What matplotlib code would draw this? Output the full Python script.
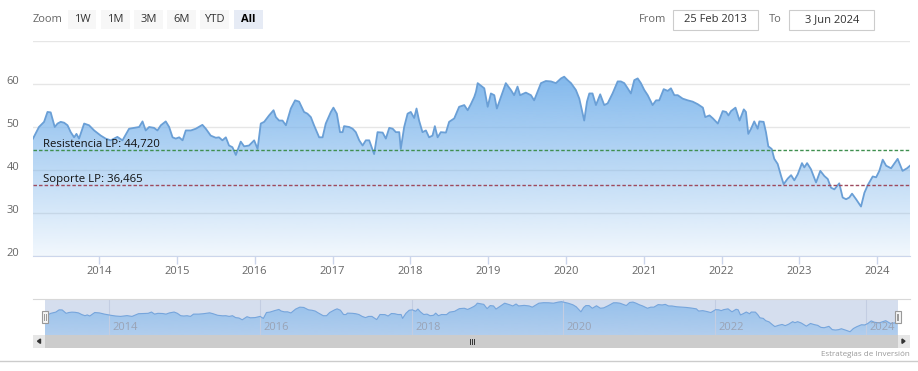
import numpy as np
import pandas as pd
import matplotlib
matplotlib.use('Agg')
import matplotlib.pyplot as plt
import matplotlib.dates as mdates
from matplotlib.patches import Rectangle, Polygon
from matplotlib.transforms import ScaledTranslation

plt.rcParams['font.family'] = ['Open Sans', 'DejaVu Sans']

# price series
dates = [
    '2013-02-25', '2013-03-25', '2013-04-18', '2013-05-04', '2013-05-19', '2013-06-07', '2013-06-20',
    '2013-07-05', '2013-07-21', '2013-08-06', '2013-08-21', '2013-09-06', '2013-09-17', '2013-09-29',
    '2013-10-23', '2013-11-15', '2013-12-09', '2014-01-09', '2014-02-01', '2014-02-25', '2014-03-28',
    '2014-04-21', '2014-05-22', '2014-06-14', '2014-07-08', '2014-07-24', '2014-08-08', '2014-08-24',
    '2014-09-16', '2014-10-02', '2014-10-18', '2014-11-10', '2014-11-26', '2014-12-12', '2014-12-27',
    '2015-01-12', '2015-01-28', '2015-02-12', '2015-03-08', '2015-03-31', '2015-05-01', '2015-05-17',
    '2015-06-09', '2015-07-03', '2015-07-18', '2015-08-03', '2015-08-19', '2015-09-03', '2015-09-19',
    '2015-10-05', '2015-10-28', '2015-11-13', '2015-12-06', '2015-12-30', '2016-01-15', '2016-01-30',
    '2016-02-15', '2016-03-09', '2016-03-30', '2016-04-10', '2016-04-25', '2016-05-11', '2016-05-27',
    '2016-06-19', '2016-07-09', '2016-07-28', '2016-08-20', '2016-09-05', '2016-09-21', '2016-10-06',
    '2016-10-30', '2016-11-15', '2016-11-30', '2016-12-24', '2017-01-05', '2017-01-21', '2017-02-05',
    '2017-02-17', '2017-02-24', '2017-03-20', '2017-04-05', '2017-04-20', '2017-05-06', '2017-05-22',
    '2017-06-06', '2017-06-22', '2017-07-15', '2017-07-31', '2017-08-24', '2017-09-08', '2017-09-24',
    '2017-10-10', '2017-10-25', '2017-11-10', '2017-11-17', '2017-12-03', '2017-12-19', '2018-01-03',
    '2018-01-19', '2018-01-30', '2018-02-11', '2018-02-27', '2018-03-15', '2018-03-30', '2018-04-15',
    '2018-04-26', '2018-05-09', '2018-05-24', '2018-06-17', '2018-07-02', '2018-07-26', '2018-08-18',
    '2018-09-11', '2018-09-27', '2018-10-12', '2018-10-28', '2018-11-05', '2018-11-13', '2018-12-14',
    '2018-12-30', '2019-01-14', '2019-01-30', '2019-02-11', '2019-03-02', '2019-03-25', '2019-04-18',
    '2019-05-03', '2019-05-19', '2019-05-31', '2019-06-27', '2019-07-21', '2019-08-05', '2019-09-06',
    '2019-09-29', '2019-10-23', '2019-11-15', '2019-12-09', '2019-12-24', '2020-01-09', '2020-01-25',
    '2020-02-17', '2020-03-04', '2020-03-16', '2020-03-27', '2020-04-09', '2020-04-20', '2020-05-05',
    '2020-05-21', '2020-06-10', '2020-06-29', '2020-07-15', '2020-08-07', '2020-08-31', '2020-09-15',
    '2020-10-01', '2020-10-17', '2020-11-01', '2020-11-17', '2020-12-03', '2020-12-18', '2021-01-03',
    '2021-01-19', '2021-02-11', '2021-02-27', '2021-03-14', '2021-04-04', '2021-04-23', '2021-05-08',
    '2021-05-24', '2021-06-09', '2021-07-02', '2021-07-26', '2021-08-18', '2021-09-11', '2021-10-05',
    '2021-10-16', '2021-11-05', '2021-11-21', '2021-12-14', '2022-01-06', '2022-01-22', '2022-02-02',
    '2022-02-14', '2022-03-07', '2022-03-26', '2022-04-15', '2022-04-25', '2022-05-06', '2022-05-19',
    '2022-06-03', '2022-06-19', '2022-06-27', '2022-07-17', '2022-07-28', '2022-08-08', '2022-08-24',
    '2022-09-05', '2022-09-21', '2022-10-07', '2022-10-19', '2022-11-07', '2022-11-23', '2022-12-08',
    '2022-12-24', '2023-01-13', '2023-01-24', '2023-02-06', '2023-02-24', '2023-03-20', '2023-04-09',
    '2023-04-28', '2023-05-14', '2023-05-29', '2023-06-14', '2023-07-07', '2023-07-23', '2023-08-08',
    '2023-08-23', '2023-09-05', '2023-09-24', '2023-10-17', '2023-11-02', '2023-11-18', '2023-12-11',
    '2023-12-27', '2024-01-11', '2024-01-27', '2024-02-12', '2024-03-06', '2024-04-06', '2024-04-29',
    '2024-05-20', '2024-06-03',
]
prices = [
    47.3, 50.0, 51.2, 53.5, 53.4, 50.0, 50.8,
    51.2, 51.0, 50.4, 48.8, 47.6, 48.4, 47.3,
    50.8, 50.4, 49.2, 48.0, 47.3, 46.9, 47.7,
    46.9, 49.6, 49.8, 50.0, 51.3, 49.2, 50.0,
    49.8, 49.2, 50.4, 51.3, 50.0, 47.6, 47.3,
    47.6, 46.9, 49.2, 49.2, 49.6, 50.5, 49.6,
    48.0, 47.5, 47.6, 46.9, 47.6, 45.7, 45.3,
    43.5, 46.6, 45.5, 45.7, 46.9, 44.9, 50.8,
    51.2, 52.7, 53.9, 52.3, 51.5, 51.5, 50.4,
    54.3, 56.2, 55.9, 53.5, 53.1, 52.3, 50.4,
    47.6, 47.6, 50.8, 53.5, 54.5, 53.1, 48.8,
    48.8, 50.2, 50.0, 49.6, 48.8, 46.9, 45.7,
    46.9, 46.9, 43.7, 48.8, 48.7, 47.3, 49.8,
    49.6, 48.8, 48.8, 44.9, 50.0, 53.1, 53.5,
    52.1, 54.3, 51.5, 48.8, 49.2, 47.6, 48.0,
    50.2, 47.6, 48.8, 48.7, 51.2, 52.0, 54.7,
    55.1, 53.9, 55.3, 57.0, 58.2, 60.2, 59.0,
    54.7, 57.8, 57.4, 54.3, 57.0, 60.2, 58.6,
    57.4, 59.4, 57.4, 58.0, 57.4, 56.2, 60.2,
    60.7, 60.6, 60.2, 61.3, 61.7, 60.9, 60.2,
    58.6, 56.6, 53.9, 51.5, 55.9, 57.8, 57.8,
    55.1, 57.6, 55.1, 55.5, 57.8, 60.6, 60.6,
    60.2, 59.0, 57.8, 60.9, 61.3, 60.2, 58.6,
    57.4, 55.1, 56.2, 56.2, 58.8, 58.4, 59.0,
    57.4, 57.4, 56.6, 56.2, 55.9, 55.3, 54.5,
    52.3, 52.7, 52.0, 50.8, 53.7, 53.5, 52.7,
    53.7, 54.5, 51.5, 54.1, 53.5, 48.4, 49.6,
    51.3, 49.6, 51.3, 51.2, 48.8, 45.5, 44.9,
    42.6, 41.4, 38.6, 36.7, 38.0, 38.8, 37.6,
    39.0, 41.6, 40.6, 41.6, 40.2, 37.1, 39.8,
    38.6, 37.9, 35.9, 35.5, 36.9, 33.6, 33.2,
    33.6, 34.5, 33.2, 31.5, 34.7, 36.5, 38.5,
    38.3, 39.8, 42.4, 41.0, 40.4, 42.6, 39.8,
    40.4, 41.0,
]

resistencia = 44.720
soporte = 36.465
y_ticks = [20, 30, 40, 50, 60, 70]
y_labels = ['20', '30', '40', '50', '60', '']
nav_years = [2014, 2016, 2018, 2020, 2022, 2024]
zoom_buttons = ['1W', '1M', '3M', '6M', 'YTD', 'All']
from_date = '25 Feb 2013'
to_date = '3 Jun 2024'

W, H = 918, 371


def box(l, t, r, b):
    return [l / W, 1 - b / H, (r - l) / W, (b - t) / H]


def grad_fill(ax, x, y, y0, top, rgb, a_top, a_bot, z=1):
    poly = ax.fill_between(x, y, y0, facecolor='none', edgecolor='none')
    n = 256
    img = np.zeros((n, 1, 4))
    img[..., :3] = rgb
    img[:, 0, 3] = np.linspace(a_bot, a_top, n)
    xn = mdates.date2num(x)
    im = ax.imshow(img, extent=[xn[0], xn[-1], y0, top], origin='lower',
                   aspect='auto', zorder=z, interpolation='bilinear')
    im.set_clip_path(poly.get_paths()[0], transform=ax.transData)


x = pd.to_datetime(dates)
blue = np.array([124, 181, 236]) / 255

fig = plt.figure(figsize=(W / 100, H / 100), dpi=100)

# main chart
ax = fig.add_axes(box(33, 41, 910, 256))
grad_fill(ax, x, prices, 20, 62, blue, 0.95, 0.1)
ax.plot(x, prices, color='#6a9fd6', lw=1.3, zorder=3)
ax.axhline(resistencia, color='#3f8f4f', lw=1, ls=(0, (2.5, 1.5)), zorder=4)
ax.axhline(soporte, color='#9e4a5e', lw=1, ls=(0, (2.5, 1.5)), zorder=4)
ax.annotate('Resistencia LP: ' + f'{resistencia:.3f}'.replace('.', ','),
            xy=(0.011, resistencia), xycoords=ax.get_yaxis_transform(),
            xytext=(0, 2), textcoords='offset points', va='baseline',
            fontsize=8.2, color='#111111', zorder=5)
ax.annotate('Soporte LP: ' + f'{soporte:.3f}'.replace('.', ','),
            xy=(0.011, soporte), xycoords=ax.get_yaxis_transform(),
            xytext=(0, 2), textcoords='offset points', va='baseline',
            fontsize=8.2, color='#111111', zorder=5)

ax.set_xlim(x[0], x[-1])
ax.set_ylim(20, 70)
ax.set_yticks(y_ticks)
ax.set_yticklabels(y_labels)
ax.yaxis.grid(True, color='#e6e6e6', lw=1)
ax.set_axisbelow(True)
ax.xaxis.set_major_locator(mdates.YearLocator())
ax.xaxis.set_major_formatter(mdates.DateFormatter('%Y'))
ax.tick_params(axis='x', length=6, width=1, color='#ccd6eb', labelsize=8,
               labelcolor='#666666', pad=1)
ax.tick_params(axis='y', length=0, labelsize=8, labelcolor='#666666', pad=9.7)
for lbl in ax.get_yticklabels():
    lbl.set_transform(lbl.get_transform() + ScaledTranslation(0, 4 / 100, fig.dpi_scale_trans))
for s in ['top', 'left', 'right']:
    ax.spines[s].set_visible(False)
ax.spines['bottom'].set_color('#ccd6eb')

# navigator
nav = fig.add_axes(box(45, 299, 897.7, 335))
nav.set_facecolor('#d5deee')
grad_fill(nav, x, prices, 0, max(prices), blue, 0.7, 0.15)
nav.plot(x, prices, color='#76a5dc', lw=0.8, zorder=3)
nav.set_xlim(x[0], x[-1])
nav.set_ylim(min(prices) - 3.3, max(prices) + 2.7)
for yr in nav_years:
    d = mdates.date2num(pd.Timestamp(year=yr, month=1, day=1))
    nav.axvline(d, color='#c3cde2', lw=0.8, zorder=2)
    nav.annotate(str(yr), xy=(d, 0.22), xycoords=nav.get_xaxis_transform(),
                 xytext=(2.5, 0), textcoords='offset points', va='center',
                 ha='left', fontsize=8, color='#9aa3b5', zorder=4)
nav.set_xticks([])
nav.set_yticks([])
for s in nav.spines.values():
    s.set_visible(False)

# page elements drawn in pixel coordinates
ov = fig.add_axes([0, 0, 1, 1])
ov.set_xlim(0, W)
ov.set_ylim(H, 0)
ov.axis('off')
ov.set_zorder(10)
ov.patch.set_visible(False)

ov.text(33, 19.5, 'Zoom', fontsize=8, color='#666666', va='center')
bx = [67.7, 101, 134.3, 167.3, 200, 234]
for b, lab in zip(bx, zoom_buttons):
    sel = lab == 'All'
    ov.add_patch(Rectangle((b, 10), 28.5, 19.3, facecolor='#e6ebf5' if sel else '#f7f7f7',
                           edgecolor='none'))
    ov.text(b + 14.25, 19.5, lab, fontsize=8, ha='center', va='center',
            color='#000000' if sel else '#333333', fontweight='bold' if sel else 'normal')

ov.text(653, 19.5, 'From', fontsize=8, color='#666666', ha='center', va='center')
ov.add_patch(Rectangle((673.3, 10), 85, 19.7, facecolor='white', edgecolor='#cccccc', lw=0.8))
ov.text(715.8, 19.5, from_date, fontsize=8, color='#333333', ha='center', va='center')
ov.text(775, 19.5, 'To', fontsize=8, color='#666666', ha='center', va='center')
ov.add_patch(Rectangle((789.3, 10), 85, 19.7, facecolor='white', edgecolor='#cccccc', lw=0.8))
ov.text(831.8, 19.5, to_date, fontsize=8, color='#333333', ha='center', va='center')

# navigator outline, handles and scrollbar
ov.plot([33, 910], [299.3, 299.3], color='#d8d8d8', lw=0.8)
for hx in [41.7, 894.5]:
    ov.add_patch(Rectangle((hx, 310.5), 6, 12.5, facecolor='#f5f5f5', edgecolor='#999999', lw=0.8))
    ov.plot([hx + 2.2, hx + 2.2], [313.5, 320], color='#999999', lw=0.7)
    ov.plot([hx + 3.8, hx + 3.8], [313.5, 320], color='#999999', lw=0.7)

ov.add_patch(Rectangle((33, 335), 877, 12.5, facecolor='#e6e6e6', edgecolor='none'))
ov.add_patch(Rectangle((45, 335), 852.7, 12.5, facecolor='#cccccc', edgecolor='none'))
ov.add_patch(Polygon([(37.5, 341.2), (40.5, 339), (40.5, 343.4)], color='#333333'))
ov.add_patch(Polygon([(905, 341.2), (902, 339), (902, 343.4)], color='#333333'))
for gx in [469.5, 471.5, 473.5]:
    ov.plot([gx, gx], [338.5, 343.5], color='#333333', lw=0.7)

ov.text(910, 354, 'Estrategias de Inversión', fontsize=5.8, color='#999999',
        ha='right', va='center')
ov.plot([0, W], [361, 361], color='#cccccc', lw=1)

fig.savefig('out.png', dpi=100)
